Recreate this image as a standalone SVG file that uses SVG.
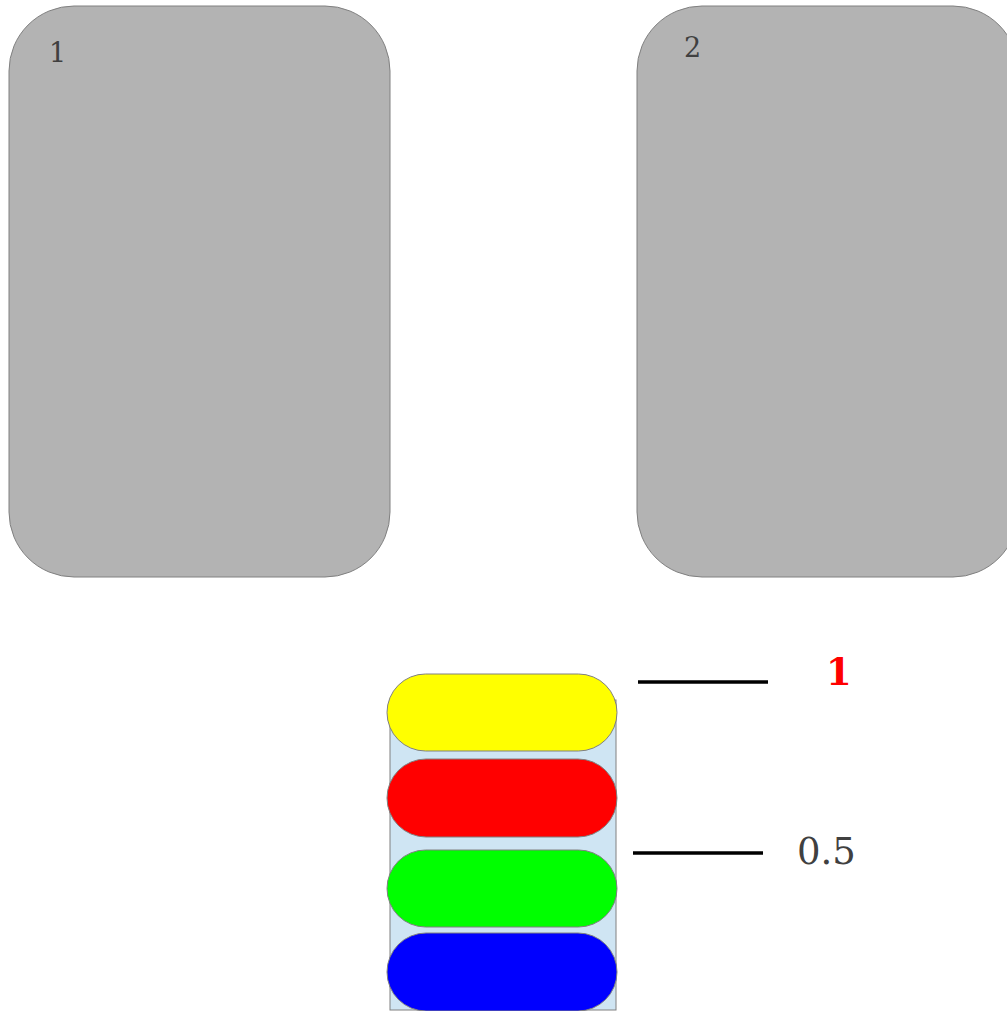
<svg xmlns="http://www.w3.org/2000/svg" width="1007" height="1011" viewBox="0 0 1007 1011">
<style>
.card{fill:#b3b3b3;stroke:#808080;stroke-width:1}
.lbl{font-family:"DejaVu Serif",serif;font-size:27px;fill:#404040}
.pill{stroke:#808080;stroke-width:1}
.tick{stroke:#000;stroke-width:3.5}
</style>
<rect width="1007" height="1011" fill="#fff"/>
<g id="node1">
<rect class="card" x="9" y="6" width="381" height="571" rx="65" ry="65"/>
<text class="lbl" x="49" y="62">1</text>
</g>
<g id="node2">
<rect class="card" x="637" y="6" width="381" height="571" rx="65" ry="65"/>
<text class="lbl" x="684" y="57">2</text>
</g>
<g id="stack">
<rect x="390" y="700" width="226" height="310" fill="#cfe5f3" stroke="#808080" stroke-width="1"/>
<rect class="pill" x="387" y="674" width="230" height="77" rx="38.5" fill="#ffff00"/>
<rect class="pill" x="387" y="759" width="230" height="78" rx="39" fill="#ff0000"/>
<rect class="pill" x="387" y="850" width="230" height="77" rx="38.5" fill="#00ff00"/>
<rect class="pill" x="387" y="933" width="230" height="78" rx="39" fill="#0000ff"/>
</g>
<g id="connectors">
<line class="tick" x1="638" y1="682" x2="768" y2="682"/>
<line class="tick" x1="633" y1="853" x2="763" y2="853"/>
</g>
<g id="labels">
<text x="826" y="685" font-family="DejaVu Serif,serif" font-size="37" font-weight="bold" fill="#ff0000">1</text>
<text x="797" y="864" font-family="DejaVu Serif,serif" font-size="37" fill="#404040">0.5</text>
</g>
</svg>
